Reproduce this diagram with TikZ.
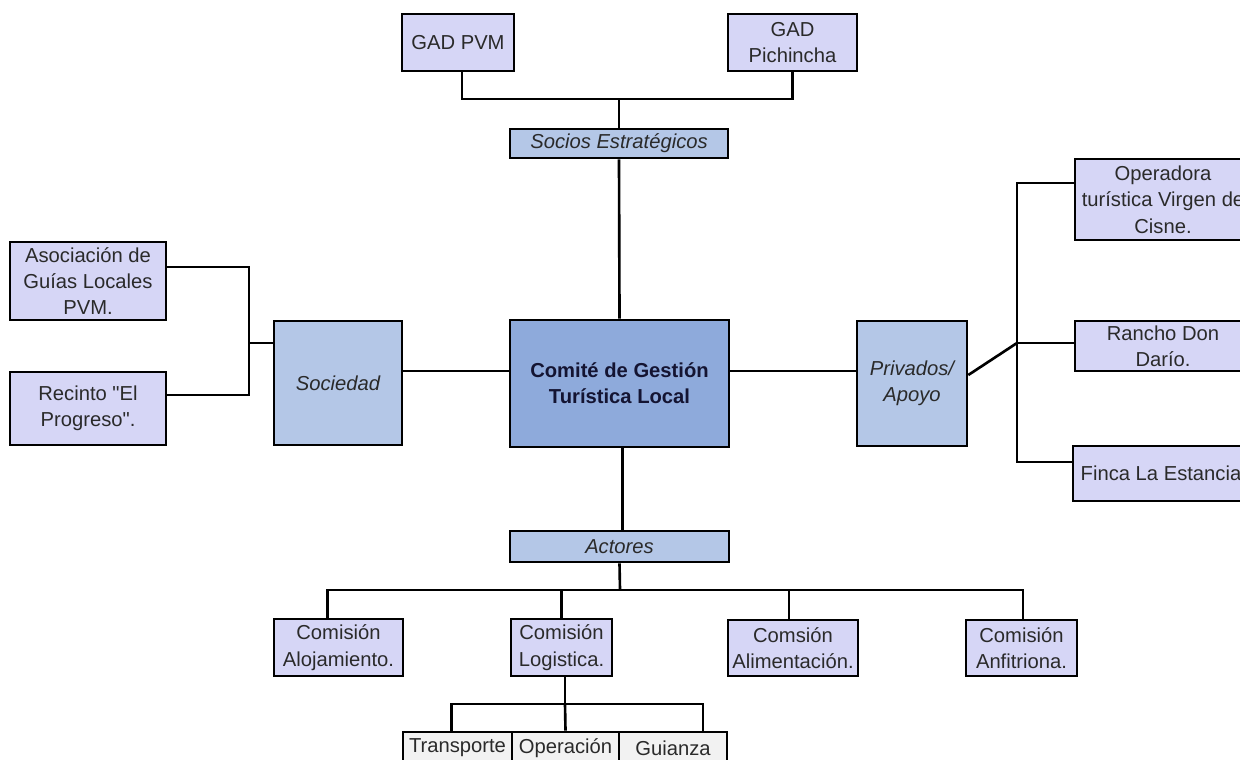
\documentclass[tikz,border=0pt]{standalone}
\usepackage{fontspec}
\setmainfont{Liberation Sans}
\definecolor{leafblue}{HTML}{D6D6F6}
\definecolor{midblue}{HTML}{B4C7E7}
\definecolor{topblue}{HTML}{8EAADB}
\definecolor{lowgray}{HTML}{F2F2F2}
\definecolor{inkgray}{HTML}{2A2A2A}

\begin{document}
\begin{tikzpicture}[x=0.02cm, y=-0.02cm,
    box/.style={draw=black, line width=1.5pt, align=center, inner sep=1pt,
      text=inkgray, font=\fontsize{11.5}{15}\selectfont},
    leaf/.style={box, fill=leafblue},
    group/.style={box, fill=midblue, font=\fontsize{11.5}{15}\selectfont\itshape},
    task/.style={box, fill=lowgray, minimum height=0.64cm},
    link/.style={line width=1.5pt}]
  \useasboundingbox (0,0) rectangle (1240,760);
  \clip (0,0) rectangle (1240,760);

  % centre and groups
  \node[box, fill=topblue, minimum width=4.38cm, minimum height=2.54cm,
    font=\fontsize{11.5}{15}\selectfont\bfseries, text={rgb,255:red,20;green,20;blue,50}]
    (comite) at (619.5,383.5) {Comité de Gestión\\Turística Local};
  \node[group, minimum width=4.36cm, minimum height=0.58cm] (socios) at (619,143.5) {Socios Estratégicos};
  \node[group, minimum width=4.38cm, minimum height=0.62cm] (actores) at (619.5,546.5) {Actores};
  \node[group, minimum width=2.56cm, minimum height=2.48cm] (sociedad) at (338,383) {Sociedad};
  \node[group, minimum width=2.2cm, minimum height=2.5cm] (privados) at (912,383.5) {Privados/\\Apoyo};

  % socios
  \node[leaf, minimum width=2.24cm, minimum height=1.14cm] (gadpvm) at (458,42.5) {GAD PVM};
  \node[leaf, minimum width=2.58cm, minimum height=1.14cm] (gadpich) at (792.5,42.5) {GAD\\Pichincha};

  % sociedad
  \node[leaf, minimum width=3.12cm, minimum height=1.56cm] (asoc) at (88,281) {Asociación de\\Guías Locales\\PVM.};
  \node[leaf, minimum width=3.12cm, minimum height=1.46cm] (recinto) at (88,408.5) {Recinto \textquotedbl El\\Progreso\textquotedbl .};

  % privados
  \node[leaf, minimum width=3.52cm, minimum height=1.62cm] (operadora) at (1163,199.5) {Operadora\\turística Virgen de\\Cisne.};
  \node[leaf, minimum width=3.52cm, minimum height=1.0cm] (rancho) at (1163,346) {Rancho Don\\Darío.};
  \node[leaf, minimum width=3.52cm, minimum height=1.1cm] (finca) at (1161,473.5) {Finca La Estancia};

  % actores
  \node[leaf, minimum width=2.58cm, minimum height=1.14cm] (alojamiento) at (338.5,647.5) {Comisión\\Alojamiento.};
  \node[leaf, minimum width=2.02cm, minimum height=1.14cm] (logistica) at (561.5,647.5) {Comisión\\Logistica.};
  \node[leaf, minimum width=2.6cm, minimum height=1.12cm] (alimentacion) at (793,648) {Comsión\\Alimentación.};
  \node[leaf, minimum width=2.22cm, minimum height=1.12cm] (anfitriona) at (1021.5,648) {Comisión\\Anfitriona.};

  % logistica
  \node[task, minimum width=2.18cm] (transporte) at (457.5,748) {Transporte};
  \node[task, minimum width=2.14cm] (operacion) at (565.5,748) {Operación};
  \node[task, minimum width=2.16cm] (guianza) at (673,748) {Guianza};

  % junctions
  \coordinate (jtop) at (619,99);
  \coordinate (jleft) at (249,343);
  \coordinate (jright) at (1017,343);
  \coordinate (jbot) at (620,590);
  \coordinate (jlog) at (565,704);
  \coordinate (ymid) at (0,371);
  \coordinate (yasoc) at (0,267);
  \coordinate (yrec) at (0,395);
  \coordinate (yprv) at (0,375);
  \coordinate (yop) at (0,183);
  \coordinate (yfin) at (0,462);

  % connectors
  \draw[link] ([xshift=0.08cm]gadpvm.south) |- (jtop) -| (gadpich.south);
  \draw[link] (jtop) -- (socios.north);
  \draw[link] (socios.south) -- (comite.north);
  \draw[link] (comite.west |- ymid) -- (sociedad.east |- ymid);
  \draw[link] (comite.east |- ymid) -- (privados.west |- ymid);
  \draw[link] (asoc.east |- yasoc) -| (jleft) |- (recinto.east |- yrec);
  \draw[link] (jleft) -- (sociedad.west |- jleft);
  \draw[link] (privados.east |- yprv) -- (jright);
  \draw[link] (operadora.west |- yop) -| (jright |- yfin) -- (finca.west |- yfin);
  \draw[link] (jright) -- (rancho.west |- jright);
  \draw[link] ([xshift=0.06cm]comite.south) -- ([xshift=0.06cm]actores.north);
  \draw[link] (actores.south) -- (jbot);
  \draw[link] ([xshift=-0.22cm]alojamiento.north) |- (jbot) -| ([xshift=0.03cm]anfitriona.north);
  \draw[link] (logistica.north |- jbot) -- (logistica.north);
  \draw[link] ([xshift=-0.08cm]alimentacion.north |- jbot) -- ([xshift=-0.08cm]alimentacion.north);
  \draw[link] (jlog |- logistica.south) -- (jlog);
  \draw[link] ([xshift=-0.12cm]transporte.north) |- (jlog) -| ([xshift=0.6cm]guianza.north);
  \draw[link] (jlog) -- (operacion.north);
\end{tikzpicture}
\end{document}
